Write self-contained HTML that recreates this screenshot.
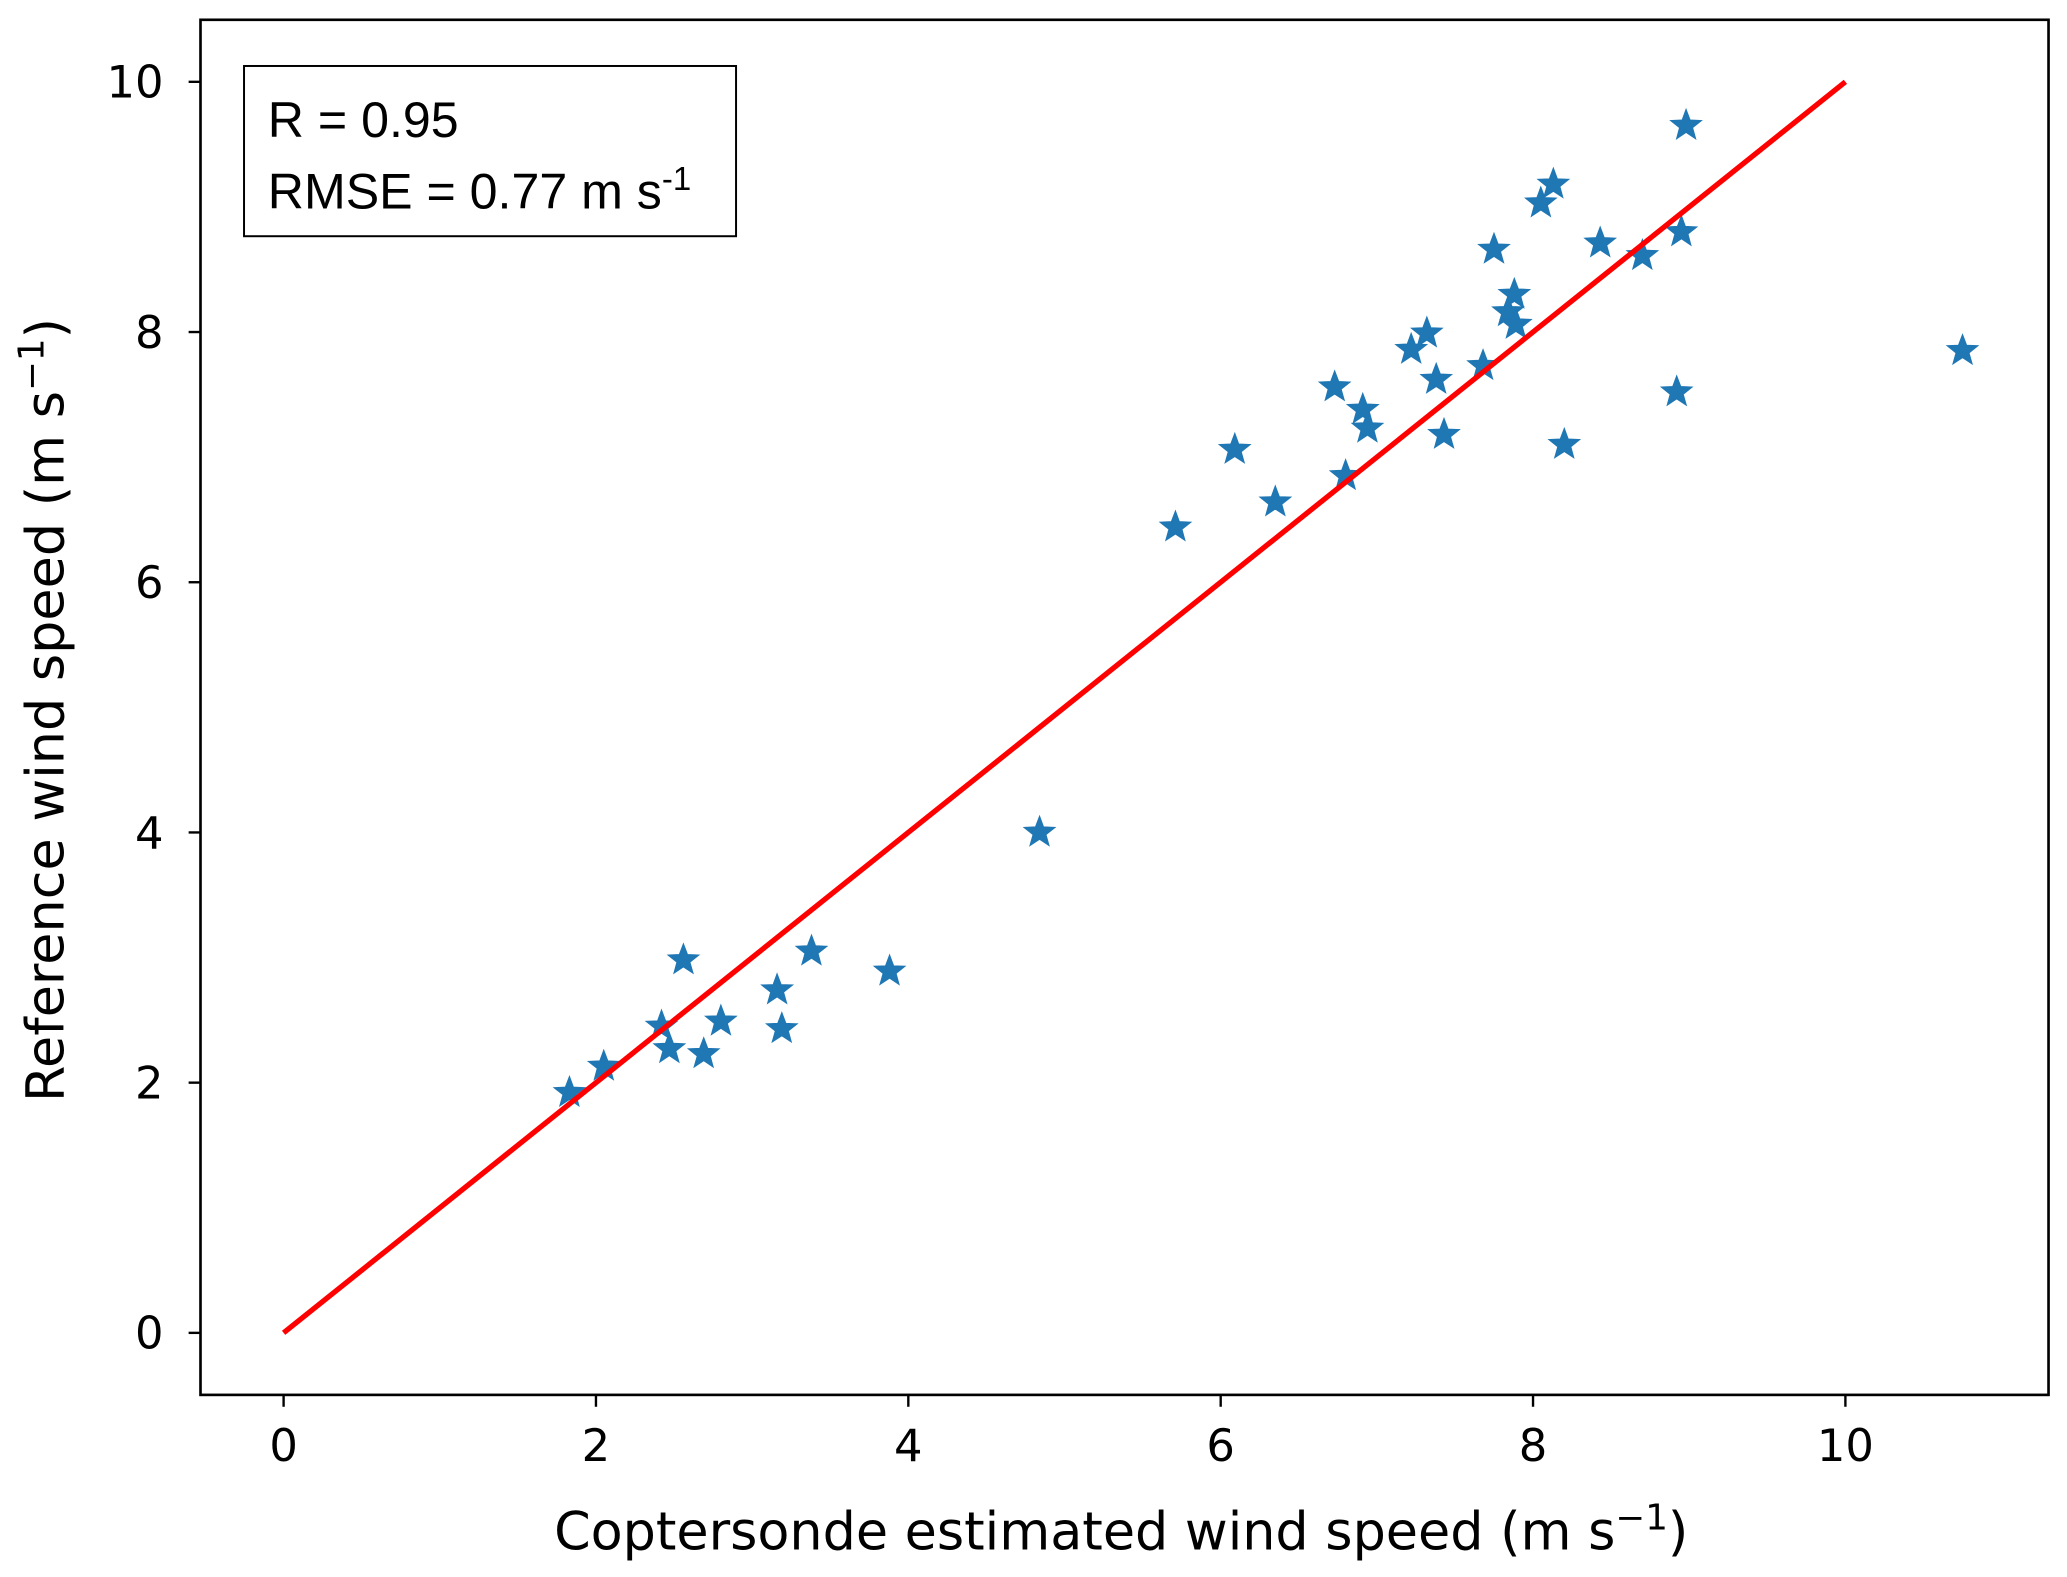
<!DOCTYPE html>
<html><head><meta charset="utf-8"><style>html,body{margin:0;padding:0;background:#fff}svg{display:block}text{font-family:"DejaVu Sans","Liberation Sans",sans-serif;fill:#000}</style></head>
<body>
<svg id="chart" width="2067" height="1577" viewBox="0 0 1567 1195" preserveAspectRatio="none" xmlns="http://www.w3.org/2000/svg">
<rect x="152" y="15" width="1401" height="1042" fill="#fff" stroke="#000" stroke-width="2"/>
<g id="ticks"></g>
<g id="marks"></g>
<text x="850" y="1174" font-size="39.7" text-anchor="middle">Coptersonde estimated wind speed (m s<tspan font-size="27" dy="-15">−1</tspan><tspan dy="15">)</tspan></text>
<text transform="translate(48,538) rotate(-90)" font-size="39.7" text-anchor="middle">Reference wind speed (m s<tspan font-size="27" dy="-15">−1</tspan><tspan dy="15">)</tspan></text>
<g>
<rect x="185" y="50" width="373" height="129" fill="#fff" stroke="#000" stroke-width="1.5"/>
<text x="203" y="104" font-size="38" style="font-family:'Liberation Sans',sans-serif">R = 0.95</text>
<text x="203" y="158" font-size="38" style="font-family:'Liberation Sans',sans-serif">RMSE = 0.77 m s<tspan font-size="25" dy="-14">-1</tspan></text>
</g>
</svg>
<script>
const xTicks=[0,2,4,6,8,10];
const yTicks=[0,2,4,6,8,10];
const xVals=[1.83,2.05,2.42,2.47,2.56,2.69,2.80,3.16,3.19,3.38,3.88,4.84,5.71,6.09,6.35,6.73,6.80,6.91,6.94,7.22,7.32,7.38,7.43,7.68,7.75,7.84,7.88,7.89,8.05,8.13,8.20,8.43,8.70,8.92,8.95,8.98,10.75];
const yVals=[1.92,2.13,2.45,2.27,2.98,2.23,2.49,2.74,2.43,3.05,2.89,4.00,6.44,7.06,6.64,7.56,6.85,7.38,7.23,7.86,7.99,7.62,7.18,7.73,8.66,8.16,8.30,8.06,9.03,9.18,7.10,8.71,8.61,7.52,8.80,9.65,7.85];
const lineX=[0,10];
const lineY=[0,10];
const NS='http://www.w3.org/2000/svg';
const sx=v=>215+v*118.4, sy=v=>1010-v*94.8;
const tg=document.getElementById('ticks'), mg=document.getElementById('marks');
function mk(tag,attrs,parent){const e=document.createElementNS(NS,tag);for(const k in attrs)e.setAttribute(k,attrs[k]);parent.appendChild(e);return e;}
xTicks.forEach(t=>{
 const l=mk('line',{x1:sx(t),x2:sx(t),y1:1057,y2:1066,stroke:'#000','stroke-width':1.8},tg);
 
 
 const tx=mk('text',{x:sx(t),y:1107,'font-size':34,'text-anchor':'middle'},tg);tx.textContent=t;
 
 
});
yTicks.forEach(t=>{
 const l=mk('line',{x1:143,x2:152,y1:sy(t),y2:sy(t),stroke:'#000','stroke-width':1.8},tg);
 
 
 const tx=mk('text',{x:124,y:sy(t)+12,'font-size':34,'text-anchor':'end'},tg);tx.textContent=t;
 
 
});
function star(cx,cy,r){let p=[];for(let i=0;i<10;i++){const a=-Math.PI/2+i*Math.PI/5;const rr=i%2?r*0.42:r;p.push((cx+rr*Math.cos(a)).toFixed(1)+','+(cy+rr*Math.sin(a)).toFixed(1));}return p.join(' ');}
xVals.forEach((x,i)=>{
 const s=mk('polygon',{points:star(sx(x),sy(yVals[i]),12),fill:'#1f77b4',stroke:'#1f77b4','stroke-width':1},mg);
 
 
});
const ln=mk('line',{x1:sx(lineX[0]),y1:sy(lineY[0]),x2:sx(lineX[1]),y2:sy(lineY[1]),stroke:'#ff0000','stroke-width':4},mg);


</script>
</body></html>
